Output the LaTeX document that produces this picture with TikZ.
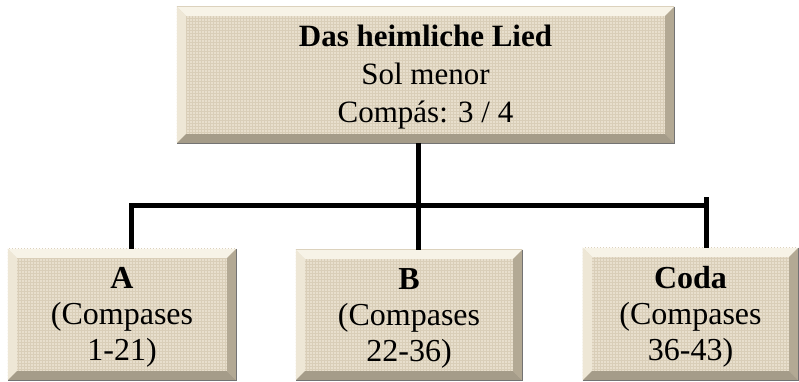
\documentclass[tikz,border=0pt]{standalone}
\usepackage{fontspec}
\setmainfont{Liberation Serif}
\usetikzlibrary{patterns}
\definecolor{paper}{HTML}{E8DFCD}
\definecolor{weave}{HTML}{D9CEB8}
\definecolor{bevtop}{HTML}{F7F3E7}
\definecolor{bevleft}{HTML}{EEE7D6}
\definecolor{bevright}{HTML}{B3A994}
\definecolor{bevbot}{HTML}{A59C89}
\newcommand\bevelit[1]{%
  \fill[pattern=grid, pattern color=weave] (#1.north west) rectangle (#1.south east);
  \fill[bevtop] (#1.north west) -- (#1.north east) -- ([shift={(-9,9)}]#1.north east) -- ([shift={(9,9)}]#1.north west) -- cycle;
  \fill[bevleft] (#1.north west) -- ([shift={(9,9)}]#1.north west) -- ([shift={(9,-9)}]#1.south west) -- (#1.south west) -- cycle;
  \fill[bevright] (#1.north east) -- ([shift={(-9,9)}]#1.north east) -- ([shift={(-9,-9)}]#1.south east) -- (#1.south east) -- cycle;
  \fill[bevbot] (#1.south west) -- ([shift={(9,-9)}]#1.south west) -- ([shift={(-9,-9)}]#1.south east) -- (#1.south east) -- cycle;
  \draw[black!55, line width=0.8pt] (#1.north east) -- (#1.south east) -- (#1.south west);
}
\begin{document}
\begin{tikzpicture}[x=1pt,y=-1pt,
  box/.style={fill=paper, inner sep=0pt},
  toptext/.style={inner sep=0pt, align=center, font=\fontsize{31}{38}\selectfont},
  subtext/.style={inner sep=0pt, align=center, font=\fontsize{32}{36}\selectfont},
  conn/.style={line width=5pt, black, line join=miter}]
\useasboundingbox (0,0) rectangle (799,381);
% boxes
\node[box, minimum width=497pt, minimum height=136pt] (top) at (425.5,75) {};
\node[box, minimum width=228pt, minimum height=131pt] (A) at (122,314.5) {};
\node[box, minimum width=226pt, minimum height=130pt] (B) at (409,315) {};
\node[box, minimum width=215pt, minimum height=132pt] (Coda) at (690.5,314) {};
\bevelit{top}
\bevelit{A}
\bevelit{B}
\bevelit{Coda}
% texts
\node[toptext] (ttop) at ([yshift=-2pt]top.center) {\textbf{Das heimliche Lied}\\Sol menor\\Compás: 3 / 4};
\node[subtext] (tA) at ([yshift=-3pt]A.center) {\textbf{A}\\(Compases\\1-21)};
\node[subtext] (tB) at ([yshift=-3pt]B.center) {\textbf{B}\\(Compases\\22-36)};
\node[subtext] (tC) at ([yshift=-3pt]Coda.center) {\textbf{Coda}\\(Compases\\36-43)};
% connectors
\coordinate (j) at (418,205);
\coordinate (jA) at (131,205);
\coordinate (jC) at (706,205);
\coordinate (cTop) at (706,197);
\draw[conn] (j |- top.south) -- (j);
\draw[conn] (jA |- A.north) -- (jA) -- (jC);
\draw[conn] (cTop) -- (jC |- Coda.north);
\draw[conn] (j) -- (j |- B.north);
\end{tikzpicture}
\end{document}
